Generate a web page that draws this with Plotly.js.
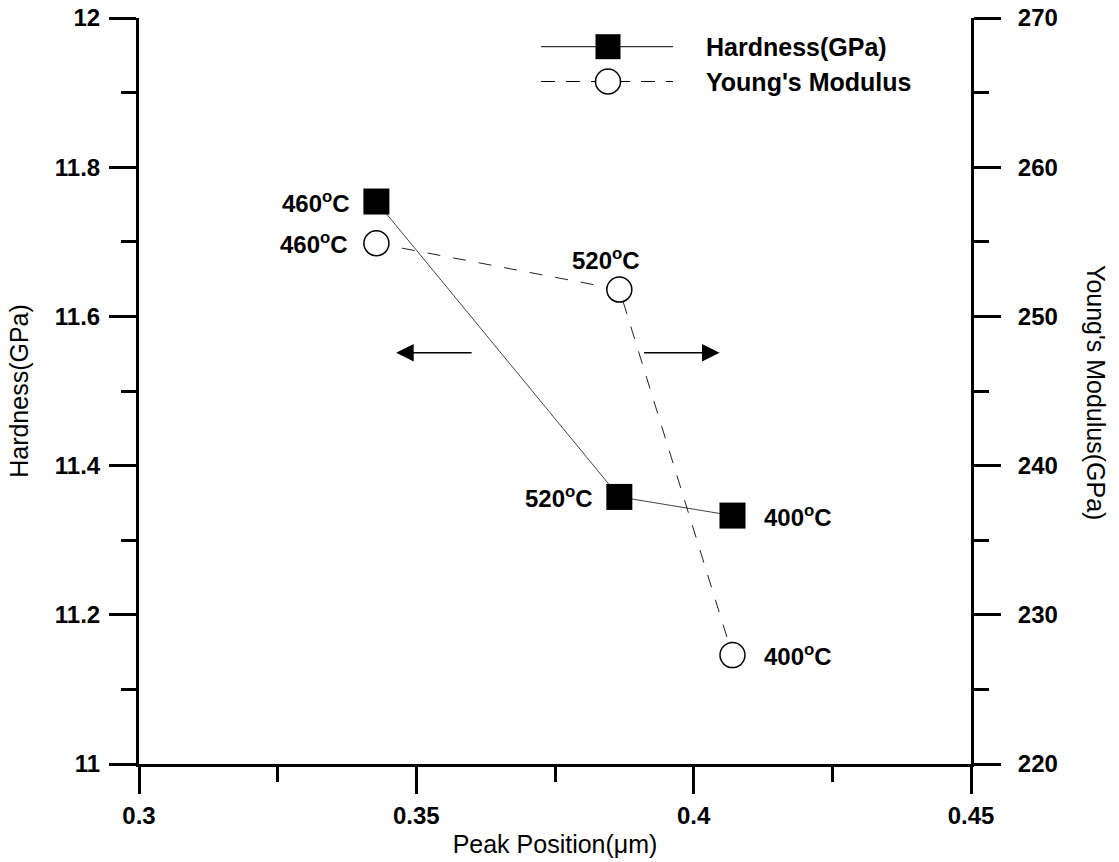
<!DOCTYPE html>
<html>
<head>
<meta charset="utf-8">
<script src="https://cdn.plot.ly/plotly-3.0.1.min.js"></script>
<style>
  html, body { margin: 0; padding: 0; background: #ffffff; }
  #chart { width: 1119px; height: 862px; }
</style>
</head>
<body>
<div id="chart"></div>
<script>
// ---- data ----
const temps = ['460', '520', '400'];
const peakPosition = [0.3428, 0.3866, 0.4070];
const hardness = [11.754, 11.358, 11.333];
const youngsModulus = [254.9, 251.8, 227.3];

const xTickVals = [0.3, 0.35, 0.4, 0.45];
const xTickText = ['0.3', '0.35', '0.4', '0.45'];
const hTickVals = [11, 11.2, 11.4, 11.6, 11.8, 12];
const hTickText = ['11', '11.2', '11.4', '11.6', '11.8', '12'];
const eTickVals = [220, 230, 240, 250, 260, 270];
const eTickText = ['220', '230', '240', '250', '260', '270'];

const seriesNames = ['Hardness(GPa)', "Young's Modulus"];

// ---- geometry ----
const M = { l: 139, r: 148, t: 18, b: 98 };
const PW = 1119 - M.l - M.r, PH = 862 - M.t - M.b;
const px = v => (v - M.l) / PW;
const py = v => (862 - M.b - v) / PH;

const FONT = 'Liberation Sans, Arial, sans-serif';
const FS_TICK = 24, FS_LAB = 24, FS_LEG = 25, FS_TITLE = 25;

const label = t => '<b>' + t + '<sup>o</sup>C</b>';

const traces = [
  {
    x: peakPosition, y: hardness, name: seriesNames[0], type: 'scatter', mode: 'lines+markers',
    xaxis: 'x', yaxis: 'y', showlegend: false,
    line: { color: '#444444', width: 1 },
    marker: { symbol: 'square', size: 26, color: '#000000', line: { width: 0 } }
  },
  {
    x: peakPosition, y: youngsModulus, name: seriesNames[1], type: 'scatter', mode: 'lines+markers',
    xaxis: 'x', yaxis: 'y2', showlegend: false,
    line: { color: '#222222', width: 1, dash: '13px,13px' },
    marker: { symbol: 'circle', size: 25, color: '#ffffff', line: { width: 1.5, color: '#000000' } }
  }
];

const annotations = [];
// hardness labels
const hShift = [[-24, 0, 'right'], [-24, 0, 'right'], [30, 0, 'left']];
temps.forEach((t, i) => {
  annotations.push({
    x: peakPosition[i], y: hardness[i], xref: 'x', yref: 'y', text: label(t), showarrow: false,
    xanchor: hShift[i][2], yanchor: 'middle', xshift: hShift[i][0], yshift: hShift[i][1],
    font: { family: FONT, size: FS_LAB, color: '#000' }
  });
});
// modulus labels
const eShift = [[-26, 0, 'right'], [-13, 31, 'center'], [30, 0, 'left']];
temps.forEach((t, i) => {
  annotations.push({
    x: peakPosition[i], y: youngsModulus[i], xref: 'x', yref: 'y2', text: label(t), showarrow: false,
    xanchor: eShift[i][2], yanchor: 'middle', xshift: eShift[i][0], yshift: eShift[i][1],
    font: { family: FONT, size: FS_LAB, color: '#000' }
  });
});
// direction arrows
annotations.push({
  x: 0.34636, y: 11.5513, xref: 'x', yref: 'y', text: '', showarrow: true,
  ax: 77, ay: 0, arrowhead: 2, arrowsize: 2.7, arrowwidth: 1.3, arrowcolor: '#000', standoff: 0
});
annotations.push({
  x: 0.40467, y: 11.5513, xref: 'x', yref: 'y', text: '', showarrow: true,
  ax: -77, ay: 0, arrowhead: 2, arrowsize: 2.7, arrowwidth: 1.3, arrowcolor: '#000', standoff: 0
});
// right axis title (reads top to bottom)
annotations.push({
  x: px(1096), y: py(392), xref: 'paper', yref: 'paper', text: "Young's Modulus(GPa)",
  textangle: 90, showarrow: false, xanchor: 'center', yanchor: 'middle',
  font: { family: FONT, size: FS_TITLE, color: '#000' }
});
// legend texts
annotations.push({
  x: px(704), y: py(46.7), xref: 'paper', yref: 'paper', text: '<b>' + seriesNames[0] + '</b>', showarrow: false,
  xanchor: 'left', yanchor: 'middle', font: { family: FONT, size: FS_LEG, color: '#000' }
});
annotations.push({
  x: px(704), y: py(81.5), xref: 'paper', yref: 'paper', text: '<b>' + seriesNames[1] + '</b>', showarrow: false,
  xanchor: 'left', yanchor: 'middle', font: { family: FONT, size: FS_LEG, color: '#000' }
});

// legend symbols
const shapes = [
  { type: 'line', xref: 'paper', yref: 'paper', x0: px(541), x1: px(673), y0: py(46.7), y1: py(46.7),
    line: { color: '#000', width: 1 } },
  { type: 'rect', xref: 'paper', yref: 'paper', x0: px(595.5), x1: px(620.5), y0: py(34.2), y1: py(59.2),
    fillcolor: '#000', line: { width: 0 } },
  { type: 'line', xref: 'paper', yref: 'paper', x0: px(541), x1: px(673), y0: py(81.5), y1: py(81.5),
    line: { color: '#000', width: 1, dash: '14px,11px' } },
  { type: 'circle', xref: 'paper', yref: 'paper', x0: px(595.5), x1: px(620.5), y0: py(69), y1: py(94),
    fillcolor: '#fff', line: { color: '#000', width: 1.5 } }
];

const axisCommon = {
  showgrid: false, zeroline: false, showline: true, linecolor: '#000', linewidth: 3,
  ticks: 'outside', ticklen: 27, tickwidth: 3, tickcolor: '#000',
  tickfont: { family: FONT, size: FS_TICK, color: '#000', weight: 'bold' }
};

const layout = {
  width: 1119, height: 862,
  margin: M,
  paper_bgcolor: '#ffffff', plot_bgcolor: '#ffffff',
  showlegend: false,
  font: { family: FONT, color: '#000' },
  xaxis: Object.assign({}, axisCommon, {
    range: [0.3, 0.45], tickvals: xTickVals, ticktext: xTickText,
    minor: { dtick: 0.025, ticks: 'outside', ticklen: 15, tickwidth: 3, tickcolor: '#000', showgrid: false },
    title: { text: 'Peak Position(\u03bcm)', font: { family: FONT, size: FS_TITLE, color: '#000' }, standoff: 8 },
    ticklabelstandoff: 1
  }),
  yaxis: Object.assign({}, axisCommon, {
    range: [11, 12], tickvals: hTickVals, ticktext: hTickText,
    minor: { dtick: 0.1, ticks: 'outside', ticklen: 15, tickwidth: 3, tickcolor: '#000', showgrid: false },
    title: { text: 'Hardness(GPa)', font: { family: FONT, size: FS_TITLE, color: '#000' }, standoff: 20 },
    ticklabelstandoff: 4
  }),
  yaxis2: Object.assign({}, axisCommon, {
    range: [220, 270], tickvals: eTickVals, ticktext: eTickText,
    overlaying: 'y', side: 'right', anchor: 'x',
    minor: { dtick: 5, ticks: 'outside', ticklen: 15, tickwidth: 3, tickcolor: '#000', showgrid: false },
    ticklabelstandoff: 12
  }),
  annotations: annotations,
  shapes: shapes
};

Plotly.newPlot('chart', traces, layout, { staticPlot: true, displayModeBar: false });
</script>
</body>
</html>
